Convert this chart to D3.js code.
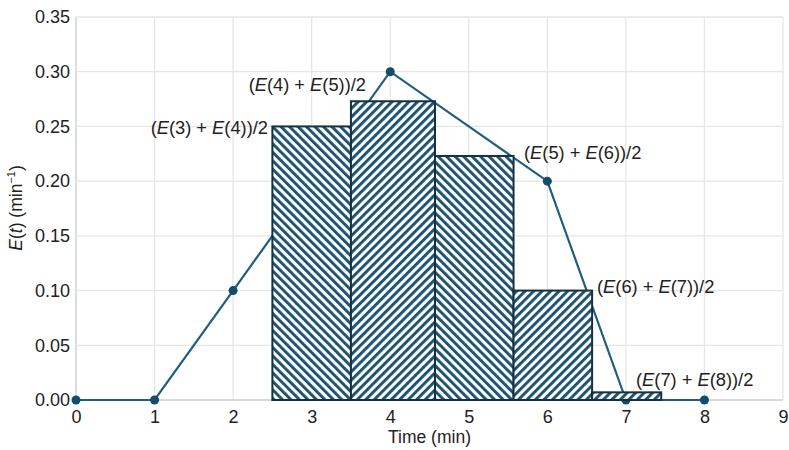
<!DOCTYPE html>
<html>
<head>
<meta charset="utf-8">
<script src="https://cdn.jsdelivr.net/npm/d3@7"></script>
<style>
  body { margin: 0; background: #fff; }
  text { font-family: 'Liberation Sans', Arial, sans-serif; fill: #222; }
</style>
</head>
<body>
<div id="chart"></div>
<script>
// E(t) curve
const times = [0, 1, 2, 3, 4, 5, 6, 7, 8]
const eValues = [0, 0, 0.1, 0.2, 0.3, 0.25, 0.2, 0, 0]
const dotShown = [true, true, true, true, true, false, true, true, true]

// trapezoid bars
const barStart = [2.5, 3.5, 4.57, 5.57, 6.57]
const barEnd = [3.5, 4.57, 5.57, 6.57, 7.45]
const barValues = [0.25, 0.273, 0.223, 0.1, 0.007]
const barHatch = ['back', 'fwd', 'back', 'fwd', 'fwd']
const barLabels = [
  ['3', '4'],
  ['4', '5'],
  ['5', '6'],
  ['6', '7'],
  ['7', '8']
]

const xTicks = [0, 1, 2, 3, 4, 5, 6, 7, 8, 9]
const yTicks = [0, 0.05, 0.1, 0.15, 0.2, 0.25, 0.3, 0.35]

const margin = { top: 17, left: 76, right: 6, bottom: 50 }
const width = 789 - margin.left - margin.right
const height = 450 - margin.top - margin.bottom

const svg = d3
  .select('#chart')
  .append('svg')
  .attr('width', 789)
  .attr('height', 450)

const defs = svg.append('defs')
const hatchColor = '#1b5272'
const addPattern = (id, angle) => {
  const p = defs
    .append('pattern')
    .attr('id', id)
    .attr('patternUnits', 'userSpaceOnUse')
    .attr('width', 6)
    .attr('height', 6)
    .attr('patternTransform', `rotate(${angle})`)
  p.append('rect').attr('width', 6).attr('height', 6).attr('fill', '#fff')
  p.append('rect').attr('width', 2.9).attr('height', 6).attr('fill', hatchColor)
}
addPattern('back', -45)
addPattern('fwd', 45)

const g = svg
  .append('g')
  .attr('transform', 'translate(' + margin.left + ',' + margin.top + ')')

const x = d3.scaleLinear().domain([0, 9]).range([0, width])
const y = d3.scaleLinear().domain([0, 0.35]).range([height, 0])

// grid
g.selectAll('.vgrid')
  .data(xTicks)
  .enter()
  .append('line')
  .attr('x1', d => x(d))
  .attr('x2', d => x(d))
  .attr('y1', 0)
  .attr('y2', height)
  .attr('stroke', d => (d === 0 ? '#c8cdd2' : '#e6e6e6'))
  .attr('stroke-width', 1.3)

g.selectAll('.hgrid')
  .data(yTicks)
  .enter()
  .append('line')
  .attr('x1', 0)
  .attr('x2', width)
  .attr('y1', d => y(d))
  .attr('y2', d => y(d))
  .attr('stroke', d => (d === 0 ? '#c8cdd2' : '#e6e6e6'))
  .attr('stroke-width', 1.3)

// axes
const xAxis = g
  .append('g')
  .attr('transform', `translate(0,${height})`)
  .call(d3.axisBottom(x).tickValues(xTicks).tickSize(0).tickPadding(10))
const yAxis = g
  .append('g')
  .call(
    d3
      .axisLeft(y)
      .tickValues(yTicks)
      .tickSize(0)
      .tickPadding(6)
      .tickFormat(d3.format('.2f'))
  )
;[xAxis, yAxis].forEach(a => {
  a.select('.domain').remove()
  a.selectAll('text')
    .attr('font-size', 18)
    .attr('font-family', "'Liberation Sans', Arial, sans-serif")
    .attr('fill', '#222')
})

// line and dots (drawn under bars)
const line = d3
  .line()
  .x((d, i) => x(times[i]))
  .y(d => y(d))
g.append('path')
  .datum(eValues)
  .attr('d', line)
  .attr('fill', 'none')
  .attr('stroke', '#1f5e7e')
  .attr('stroke-width', 2.2)

g.selectAll('.dot')
  .data(times.filter((d, i) => dotShown[i]))
  .enter()
  .append('circle')
  .attr('cx', d => x(d))
  .attr('cy', d => y(eValues[times.indexOf(d)]))
  .attr('r', 4.5)
  .attr('fill', '#124e6c')

// bars
g.selectAll('.bar')
  .data(barValues)
  .enter()
  .append('rect')
  .attr('x', (d, i) => x(barStart[i]))
  .attr('width', (d, i) => x(barEnd[i]) - x(barStart[i]))
  .attr('y', d => y(d))
  .attr('height', d => height - y(d))
  .attr('fill', (d, i) => `url(#${barHatch[i]})`)
  .attr('stroke', '#17303f')
  .attr('stroke-width', 2)

// annotations
const labelPos = [
  [268, 134],
  [366, 91],
  [524, 159],
  [597, 293],
  [636, 386]
]
const labelAnchor = ['end', 'end', 'start', 'start', 'start']

barLabels.forEach((pair, i) => {
  const t = svg
    .append('text')
    .attr('x', labelPos[i][0])
    .attr('y', labelPos[i][1])
    .attr('text-anchor', labelAnchor[i])
    .attr('font-size', 18.3)
  t.append('tspan').text('(')
  t.append('tspan').attr('font-style', 'italic').text('E')
  t.append('tspan').text(`(${pair[0]}) + `)
  t.append('tspan').attr('font-style', 'italic').text('E')
  t.append('tspan').text(`(${pair[1]}))/2`)
})

// axis titles
svg
  .append('text')
  .attr('x', margin.left + x(4.5))
  .attr('y', 443)
  .attr('text-anchor', 'middle')
  .attr('font-size', 17.5)
  .text('Time (min)')

const yt = svg
  .append('text')
  .attr('transform', 'translate(22,208) rotate(-90)')
  .attr('text-anchor', 'middle')
  .attr('font-size', 17.5)
yt.append('tspan').attr('font-style', 'italic').text('E')
yt.append('tspan').text('(')
yt.append('tspan').attr('font-style', 'italic').text('t')
yt.append('tspan').text(') (min')
yt.append('tspan').attr('font-size', 11).attr('dy', -7).text('−1')
yt.append('tspan').attr('dy', 7).text(')')
</script>
</body>
</html>
